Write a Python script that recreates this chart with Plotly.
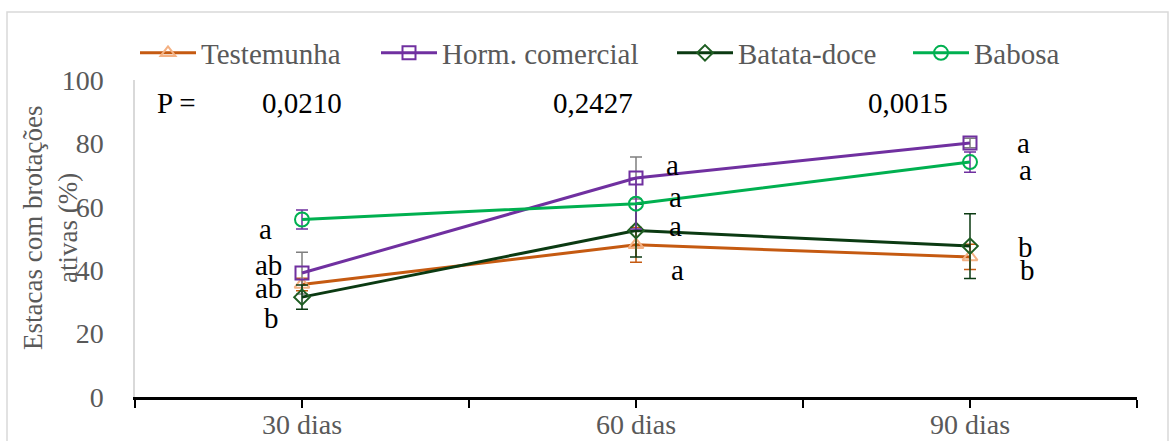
import plotly.graph_objects as go

# ---------------- data ----------------
categories = ["30 dias", "60 dias", "90 dias"]
series_names = ["Testemunha", "Horm. comercial", "Batata-doce", "Babosa"]
testemunha = [35.5, 48.0, 44.2]
testemunha_err = [2.0, 5.5, 4.0]
horm = [39.1, 69.1, 80.1]
horm_err = [6.6, 6.6, 1.5]
batata = [31.5, 52.5, 47.6]
batata_err = [3.8, 8.3, 10.2]
babosa = [56.0, 61.0, 74.1]
babosa_err = [3.0, 8.0, 3.2]
p_values = ["0,0210", "0,2427", "0,0015"]
letters_30 = ["a", "ab", "ab", "b"]
letters_60 = ["a", "a", "a", "a"]
letters_90 = ["a", "a", "b", "b"]
y_ticks = [0, 20, 40, 60, 80, 100]

# ---------------- layout helpers ----------------
W, H = 1170, 441
L, R, T, B = 135, 33, 80, 44
PW, PH = W - L - R, H - T - B


def px_x(px):
    return (px - L) / PW


def px_y(py):
    return (H - B - py) / PH


SERIF = "Liberation Serif, Times New Roman, serif"
GRAY = "#595959"

xs = list(range(len(categories)))

styles = [
    dict(line="#C55A11", marker="#F4B183", symbol="triangle-up-open", err="#C55A11", size=13),
    dict(line="#7030A0", marker="#7030A0", symbol="square-open", err="#7F7F7F", size=13),
    dict(line="#0B3A12", marker="#1E5E22", symbol="diamond-open", err="#0B3A12", size=12),
    dict(line="#00B050", marker="#00B050", symbol="circle-open", err="#7030A0", size=14),
]
values = [testemunha, horm, batata, babosa]
errors = [testemunha_err, horm_err, batata_err, babosa_err]
legend_ids = ["legend", "legend2", "legend3", "legend4"]
legend_px = [135, 376, 672, 908]

fig = go.Figure()
for name, vals, errs, st, lg in zip(series_names, values, errors, styles, legend_ids):
    fig.add_trace(go.Scatter(
        x=xs, y=vals, name=name, mode="lines+markers", legend=lg,
        line=dict(color=st["line"], width=3),
        marker=dict(symbol=st["symbol"], size=st["size"], color=st["marker"],
                    line=dict(color=st["marker"], width=2)),
        error_y=dict(type="data", array=errs, visible=True, color=st["err"],
                     thickness=1.5, width=6),
    ))

annotations = []
# P values
annotations.append(dict(x=px_x(155), y=px_y(103), xref="paper", yref="paper",
                        text="P =", showarrow=False, xanchor="left", yanchor="middle",
                        font=dict(family=SERIF, size=29, color="black")))
p_x = [0.0, 0.871, 1.814]
for px_, t in zip(p_x, p_values):
    annotations.append(dict(x=px_, y=px_y(103), xref="x", yref="paper", text=t,
                            showarrow=False, xanchor="center", yanchor="middle",
                            font=dict(family=SERIF, size=29, color="black")))

# significance letters (label placement)
letter_pos = [
    (letters_30, [(-0.11, 53.0), (-0.10, 41.6), (-0.10, 34.4), (-0.09, 24.9)]),
    (letters_60, [(1.11, 73.2), (1.117, 63.1), (1.117, 53.9), (1.123, 40.0)]),
    (letters_90, [(2.16, 80.1), (2.166, 71.6), (2.166, 47.3), (2.172, 40.0)]),
]
for letters, poss in letter_pos:
    for t, (lx, ly) in zip(letters, poss):
        annotations.append(dict(x=lx, y=ly, xref="x", yref="y", text=t, showarrow=False,
                                xanchor="center", yanchor="middle",
                                font=dict(family=SERIF, size=29, color="black")))

# y axis title
annotations.append(dict(x=px_x(50), y=px_y(228), xref="paper", yref="paper",
                        text="Estacas com brotações<br>ativas (%)", textangle=-90,
                        showarrow=False, xanchor="center", yanchor="middle",
                        font=dict(family=SERIF, size=27, color=GRAY)))

tickvals = [-0.5, 0, 0.5, 1, 1.5, 2, 2.5]
ticktext = ["", categories[0], "", categories[1], "", categories[2], ""]

legend_common = dict(orientation="h", yanchor="middle", xanchor="left",
                     font=dict(family=SERIF, size=29, color=GRAY),
                     bgcolor="rgba(0,0,0,0)", itemwidth=56)
layout_legends = {}
for lg, lx in zip(legend_ids, legend_px):
    layout_legends[lg] = dict(legend_common, x=px_x(lx), y=px_y(53))

fig.update_layout(
    width=W, height=H,
    margin=dict(l=L, r=R, t=T, b=B, autoexpand=False),
    paper_bgcolor="white", plot_bgcolor="white",
    font=dict(family=SERIF, size=28, color=GRAY),
    showlegend=True,
    xaxis=dict(range=[-0.5, 2.5], tickmode="array", tickvals=tickvals, ticktext=ticktext,
               showgrid=False, zeroline=False, showline=True, linecolor="black", linewidth=2.5,
               ticks="outside", ticklen=8, tickwidth=1.5, tickcolor="black",
               tickfont=dict(family=SERIF, size=28, color=GRAY), ticklabelstandoff=-7,
               fixedrange=True),
    yaxis=dict(range=[0, 100], tickmode="array", tickvals=y_ticks, showgrid=False,
               zeroline=False, showline=True, linecolor="#D9D9D9", linewidth=1.5,
               ticks="", tickfont=dict(family=SERIF, size=28, color=GRAY),
               ticklabelstandoff=24, fixedrange=True),
    annotations=annotations,
    shapes=[dict(type="rect", xref="paper", yref="paper", x0=px_x(7), x1=px_x(1168),
                 y0=px_y(460), y1=px_y(12), line=dict(color="#D9D9D9", width=1.5),
                 fillcolor="rgba(0,0,0,0)", layer="below")],
    **layout_legends,
)

fig.write_html("out.html")
